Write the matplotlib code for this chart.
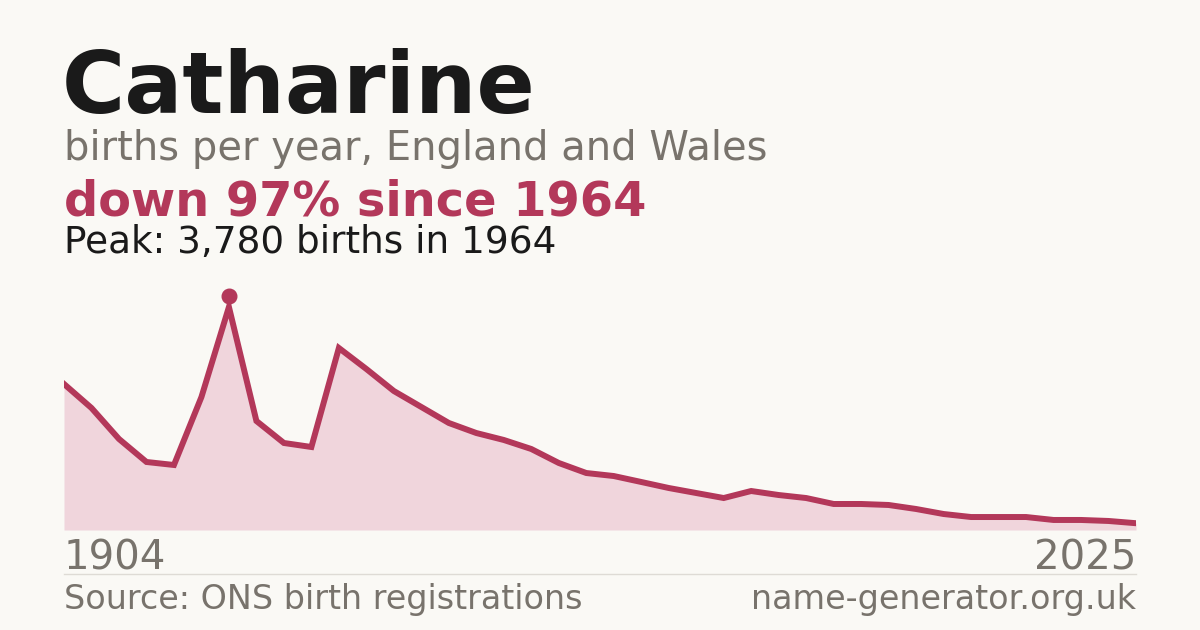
import numpy as np
import matplotlib
matplotlib.use("Agg")
import matplotlib.pyplot as plt
from matplotlib.transforms import offset_copy

# births per year (points equally spaced)
births = [2475, 2068, 1543, 1153, 1102, 2254, 3780, 1848, 1475, 1407,
          3085, 2729, 2356, 2085, 1814, 1644, 1526, 1373, 1136, 966,
          915, 814, 712, 627, 542, 661, 593, 542, 441, 441,
          424, 356, 271, 220, 220, 220, 170, 170, 153, 115]
first_year = "1904"
last_year = "2025"
peak_value = 3780
peak_year = 1964

name = "Catharine"
subtitle = "births per year, England and Wales"
headline = "down 97% since 1964"
peak_text = f"Peak: {peak_value:,} births in {peak_year}"
source = "Source: ONS birth registrations"
site = "name-generator.org.uk"

bg = "#faf9f5"
red = "#b3385a"
fill = "#f0d5dc"
grey = "#78736c"
dark = "#1a1a1a"

W, H = 1200, 630
fig = plt.figure(figsize=(W / 100, H / 100), dpi=100, facecolor=bg)


def fx(px):
    return px / W


def fy(py):
    return 1 - py / H


ax = fig.add_axes([fx(64), fy(530), fx(1136) - fx(64), fy(280) - fy(530)])
ax.set_facecolor(bg)
x = np.arange(len(births))
y = np.array(births)
ax.fill_between(x, 0, y, color=fill, lw=0)
ax.plot(x, y, color=red, lw=4.3, solid_joinstyle="miter")
ipk = int(np.argmax(y))
trans = offset_copy(ax.transData, fig=fig, x=0, y=8, units="points")
ax.plot(x[ipk], y[ipk], "o", color=red, ms=10.5, mec=red, transform=trans)
ax.set_xlim(0, len(births) - 1)
ax.set_ylim(0, peak_value * 250 / 223)
ax.axis("off")

fig.text(fx(62), fy(113), name, fontsize=62, fontweight="bold", color=dark)
fig.text(fx(64), fy(160), subtitle, fontsize=28.8, color=grey)
fig.text(fx(64), fy(215), headline, fontsize=34.5, fontweight="bold", color=red)
fig.text(fx(64), fy(253), peak_text, fontsize=26.9, color=dark)

fig.text(fx(64), fy(570), first_year, fontsize=29, color=grey)
fig.text(fx(1136), fy(570), last_year, fontsize=29, color=grey, ha="right")
fig.add_artist(plt.Line2D([fx(64), fx(1136)], [fy(574), fy(574)],
                          color="#dedbd5", lw=1))
fig.text(fx(64), fy(609), source, fontsize=24, color=grey)
fig.text(fx(1136), fy(609), site, fontsize=24, color=grey, ha="right")

fig.savefig("out.png", dpi=100, facecolor=bg)
